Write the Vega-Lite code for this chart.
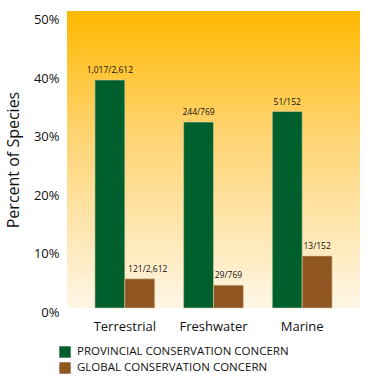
{
  "$schema": "https://vega.github.io/schema/vega-lite/v6.json",
  "autosize": "none",
  "padding": {"left": 67, "top": 11, "right": 7, "bottom": 70},
  "width": 293,
  "height": 297,
  "view": {
    "stroke": null,
    "fill": {"gradient": "linear", "x1": 0, "y1": 0, "x2": 0, "y2": 1,
      "stops": [
        {"offset": 0, "color": "#FFB800"},
        {"offset": 0.4, "color": "#FFD36E"},
        {"offset": 1, "color": "#FFF6E6"}
      ]}
  },
  "data": {
    "values": [
      {"habitat": "Terrestrial", "concern": "PROVINCIAL CONSERVATION CONCERN", "pct": 39.0, "label": "1,017/2,612"},
      {"habitat": "Terrestrial", "concern": "GLOBAL CONSERVATION CONCERN", "pct": 5.0, "label": "121/2,612"},
      {"habitat": "Freshwater", "concern": "PROVINCIAL CONSERVATION CONCERN", "pct": 31.8, "label": "244/769"},
      {"habitat": "Freshwater", "concern": "GLOBAL CONSERVATION CONCERN", "pct": 3.9, "label": "29/769"},
      {"habitat": "Marine", "concern": "PROVINCIAL CONSERVATION CONCERN", "pct": 33.6, "label": "51/152"},
      {"habitat": "Marine", "concern": "GLOBAL CONSERVATION CONCERN", "pct": 8.9, "label": "13/152"}
    ]
  },
  "encoding": {
    "x": {
      "field": "habitat", "type": "nominal", "sort": ["Terrestrial", "Freshwater", "Marine"],
      "scale": {"paddingInner": 0.326, "paddingOuter": 0.315},
      "axis": {"title": null, "labelAngle": 0, "ticks": false, "domain": false, "labelPadding": 12,
        "labelFont": "Open Sans", "labelFontSize": 13, "labelColor": "#111"}
    },
    "xOffset": {"field": "concern", "type": "nominal",
      "sort": ["PROVINCIAL CONSERVATION CONCERN", "GLOBAL CONSERVATION CONCERN"],
      "scale": {"paddingInner": 0, "paddingOuter": 0}},
    "y": {
      "field": "pct", "type": "quantitative",
      "scale": {"domain": [0, 50.8], "nice": false},
      "axis": {"title": "Percent of Species", "values": [0, 10, 20, 30, 40, 50],
        "labelExpr": "datum.value + '%'", "ticks": false, "domain": false, "grid": false,
        "labelPadding": 8, "labelOffset": 4, "labelFont": "Open Sans", "labelFontSize": 13, "labelColor": "#111",
        "titleFont": "Open Sans", "titleFontSize": 16, "titleFontWeight": "normal", "titleColor": "#111", "titlePadding": 12}
    }
  },
  "layer": [
    {
      "mark": {"type": "bar", "stroke": "#d9c9a0", "strokeWidth": 0.6},
      "encoding": {
        "color": {
          "field": "concern", "type": "nominal",
          "sort": ["PROVINCIAL CONSERVATION CONCERN", "GLOBAL CONSERVATION CONCERN"],
          "scale": {"domain": ["PROVINCIAL CONSERVATION CONCERN", "GLOBAL CONSERVATION CONCERN"], "range": ["#00602D", "#8F5622"]},
          "legend": {
            "title": null, "orient": "none", "legendX": -8, "legendY": 335, "direction": "vertical",
            "symbolType": "square", "symbolSize": 130, "symbolStrokeWidth": 0, "symbolOpacity": 1,
            "labelFont": "Open Sans", "labelFontSize": 11.5, "labelColor": "#111", "labelLimit": 320,
            "rowPadding": 4, "labelOffset": 6
          }
        }
      }
    },
    {
      "transform": [{"filter": "datum.label != '121/2,612'"}],
      "mark": {"type": "text", "baseline": "bottom", "dy": -5, "font": "Open Sans", "fontSize": 8.5, "color": "#111"},
      "encoding": {"text": {"field": "label"}}
    },
    {
      "transform": [{"filter": "datum.label == '121/2,612'"}],
      "mark": {"type": "text", "baseline": "bottom", "dy": -5, "dx": 8, "font": "Open Sans", "fontSize": 8.5, "color": "#111"},
      "encoding": {"text": {"field": "label"}}
    }
  ]
}
